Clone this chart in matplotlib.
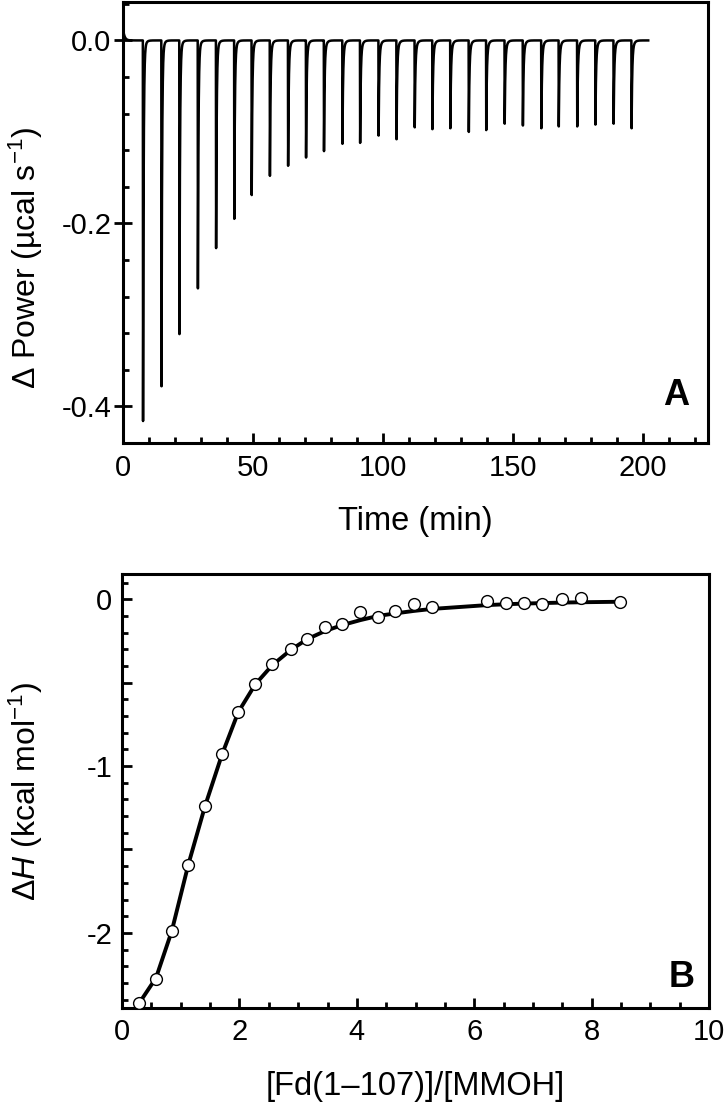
import numpy as np
import matplotlib
matplotlib.use('Agg')
import matplotlib.pyplot as plt
from matplotlib.ticker import MultipleLocator, FixedLocator

plt.rcParams['font.family'] = ['Liberation Sans', 'DejaVu Sans']
plt.rcParams['mathtext.fontset'] = 'custom'
plt.rcParams['mathtext.rm'] = 'Liberation Sans'
plt.rcParams['mathtext.it'] = 'Liberation Sans:italic'

# panel A: injection times (min) and peak depths (ucal/s)
inj_time = [7.6, 14.7, 21.6, 28.7, 35.7, 42.7, 49.4, 56.4, 63.4, 70.3,
            77.2, 84.3, 91.1, 98.2, 105.1, 112.1, 118.9, 125.8, 132.9, 139.6,
            146.7, 153.7, 160.8, 167.5, 174.6, 181.6, 188.6, 195.5]
peak_depth = [-0.416, -0.378, -0.321, -0.271, -0.227, -0.195, -0.169, -0.148, -0.137, -0.128,
              -0.121, -0.113, -0.112, -0.104, -0.108, -0.095, -0.097, -0.096, -0.100, -0.098,
              -0.091, -0.093, -0.096, -0.094, -0.094, -0.092, -0.091, -0.096]
run_end = 202.0
start_bump = 0.012

# panel B: integrated heats and fit
ratio = [0.295, 0.579, 0.847, 1.130, 1.414, 1.704, 1.981, 2.27, 2.56, 2.87,
         3.15, 3.46, 3.75, 4.06, 4.36, 4.65, 4.97, 5.28, 6.22, 6.54,
         6.85, 7.16, 7.50, 7.82, 8.48]
dH = [-2.42, -2.276, -1.99, -1.592, -1.238, -0.93, -0.676, -0.509, -0.391, -0.300,
      -0.237, -0.168, -0.148, -0.078, -0.104, -0.068, -0.028, -0.048, -0.008, -0.020,
      -0.020, -0.028, 0.0, 0.010, -0.018]
dH_fit = [-2.42, -2.27, -1.99, -1.59, -1.24, -0.93, -0.676, -0.51, -0.395, -0.305,
          -0.24, -0.19, -0.155, -0.125, -0.10, -0.085, -0.07, -0.058, -0.035, -0.03,
          -0.026, -0.023, -0.02, -0.018, -0.015]

# build the raw thermogram trace from the peaks
t = np.arange(0, run_end, 0.02)
power = start_bump * np.exp(-t / 0.6)
for t0, d in zip(inj_time, peak_depth):
    dt = t - t0
    on = dt >= 0
    shape = np.zeros_like(t)
    rise = on & (dt < 0.08)
    shape[rise] = d * dt[rise] / 0.08
    decay = dt >= 0.08
    x = dt[decay] - 0.08
    shape[decay] = (d + 0.02) * np.exp(-x / 0.22) - 0.02 * np.exp(-x / 0.6)
    power = power + shape

fig = plt.figure(figsize=(7.24, 11.15), dpi=100)

ax1 = fig.add_axes([0.170, 0.6027, 0.808, 0.3955])
ax1.plot(t, power, color='black', lw=1.8)
ax1.set_xlim(0, 225)
ax1.set_ylim(-0.44, 0.042)
ax1.xaxis.set_major_locator(FixedLocator([0, 50, 100, 150, 200]))
ax1.xaxis.set_minor_locator(MultipleLocator(10))
ax1.yaxis.set_major_locator(MultipleLocator(0.2))
ax1.yaxis.set_minor_locator(MultipleLocator(0.04))
ax1.yaxis.set_major_formatter(plt.FuncFormatter(lambda v, p: f'{v:.1f}'.replace('-0.0', '0.0')))
ax1.tick_params(axis='y', which='major', direction='inout', length=13, width=2, pad=2)
ax1.tick_params(axis='y', which='minor', direction='in', length=4.5, width=2)
ax1.tick_params(axis='x', which='major', direction='in', length=7.5, width=2, pad=8)
ax1.tick_params(axis='x', which='minor', direction='in', length=4, width=2)
ax1.tick_params(labelsize=21)
ax1.set_xlabel('Time (min)', fontsize=23.5, labelpad=17)
ax1.set_ylabel('\u0394 Power (\u00b5cal s$^{-1}$)', fontsize=23)
ax1.yaxis.set_label_coords(-0.133, 0.42)
ax1.text(0.968, 0.068, 'A', transform=ax1.transAxes, fontsize=26,
         fontweight='bold', ha='right', va='bottom')

ax2 = fig.add_axes([0.1685, 0.096, 0.811, 0.389])
ax2.plot(ratio, dH_fit, color='black', lw=2.8, zorder=2)
ax2.plot(ratio, dH, 'o', ms=8.5, mfc='white', mec='black', mew=1.0, zorder=3)
ax2.set_xlim(0, 10)
ax2.set_ylim(-2.45, 0.15)
ax2.xaxis.set_major_locator(MultipleLocator(2))
ax2.xaxis.set_minor_locator(MultipleLocator(0.5))
ax2.yaxis.set_major_locator(MultipleLocator(0.5))
ax2.yaxis.set_minor_locator(MultipleLocator(0.1))
ax2.yaxis.set_major_formatter(plt.FuncFormatter(
    lambda v, p: f'{v:.0f}'.replace('-0', '0') if abs(v - round(v)) < 1e-6 else ''))
ax2.tick_params(which='major', direction='in', length=7.5, width=2, pad=7)
ax2.tick_params(which='minor', direction='in', length=4, width=2)
ax2.tick_params(labelsize=21)
ax2.set_xlabel('[Fd(1\u2013107)]/[MMOH]', fontsize=23.5, labelpad=18)
ax2.set_ylabel(r'$\Delta\mathit{H}$ (kcal mol$^{-1}$)', fontsize=23)
ax2.yaxis.set_label_coords(-0.131, 0.5)
ax2.text(0.976, 0.03, 'B', transform=ax2.transAxes, fontsize=26,
         fontweight='bold', ha='right', va='bottom')

for ax in (ax1, ax2):
    for s in ax.spines.values():
        s.set_linewidth(2.2)

fig.savefig('out.png', dpi=100)
